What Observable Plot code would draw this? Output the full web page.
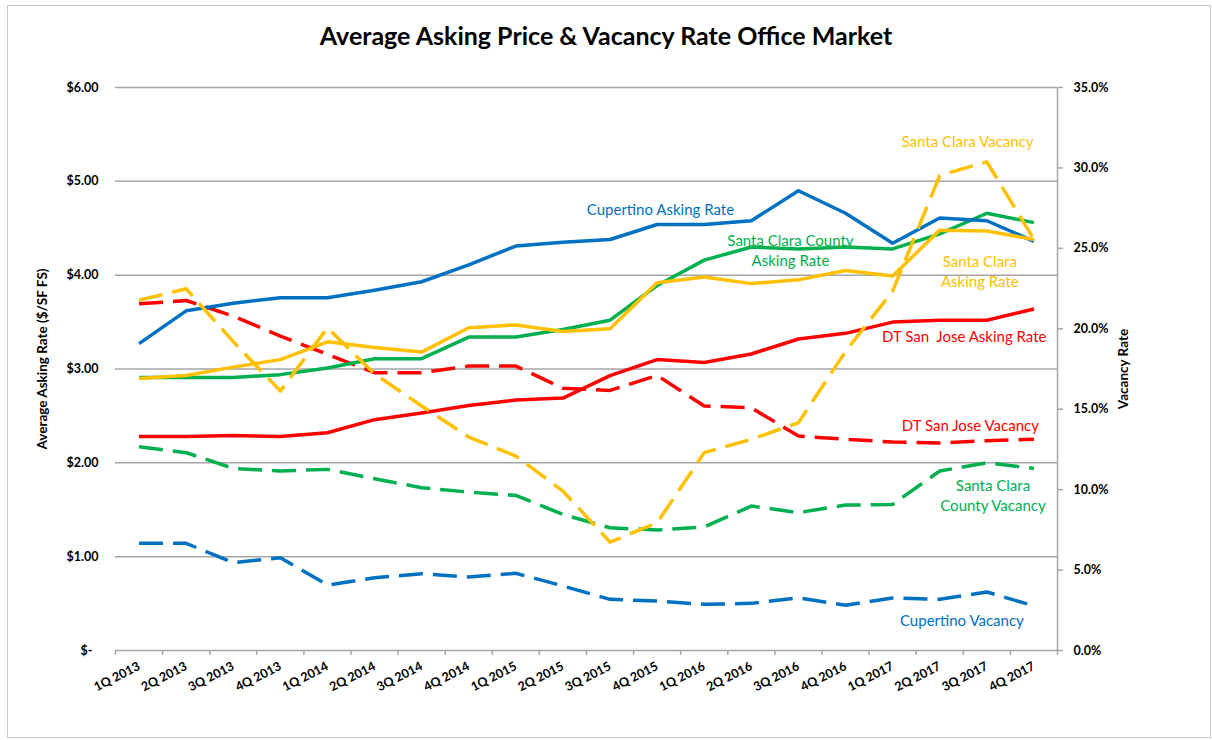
<!DOCTYPE html>
<html><head><meta charset="utf-8">
<script src="https://cdn.jsdelivr.net/npm/d3@7"></script>
<script src="https://cdn.jsdelivr.net/npm/@observablehq/plot@0.6"></script>
<style>
body{margin:0;background:#fff;font-family:Lato,"Open Sans",sans-serif;}
#frame{position:absolute;left:7px;top:5px;width:1202px;height:731px;border:1px solid #c8c8c8;pointer-events:none;}
#title{height:60px;box-sizing:border-box;padding-top:21px;text-align:center;font-weight:bold;font-size:25px;line-height:28px;color:#000;}
#chart svg{display:block;}
</style></head><body>
<div id="frame"></div>
<div id="title">Average Asking Price &amp; Vacancy Rate Office Market</div>
<div id="chart"></div>
<script>
const quarters = ["1Q 2013","2Q 2013","3Q 2013","4Q 2013","1Q 2014","2Q 2014","3Q 2014","4Q 2014","1Q 2015","2Q 2015","3Q 2015","4Q 2015","1Q 2016","2Q 2016","3Q 2016","4Q 2016","1Q 2017","2Q 2017","3Q 2017","4Q 2017"];

// Asking rates ($/SF FS) — left axis
const cupertinoAsking = [3.27,3.62,3.70,3.76,3.76,3.84,3.93,4.11,4.31,4.35,4.38,4.54,4.54,4.58,4.90,4.66,4.34,4.61,4.58,4.36];
const sccAsking       = [2.91,2.91,2.91,2.94,3.01,3.11,3.11,3.34,3.34,3.42,3.52,3.89,4.16,4.30,4.28,4.30,4.28,4.44,4.66,4.56];
const scAsking        = [2.90,2.93,3.02,3.10,3.29,3.23,3.18,3.44,3.47,3.40,3.43,3.92,3.98,3.91,3.95,4.05,3.99,4.48,4.47,4.38];
const dtsjAsking      = [2.28,2.28,2.29,2.28,2.32,2.46,2.53,2.61,2.67,2.69,2.93,3.10,3.07,3.16,3.32,3.38,3.50,3.52,3.52,3.64];

// Vacancy rates (%) — right axis
const dtsjVacancy      = [21.55,21.76,20.79,19.55,18.41,17.27,17.27,17.68,17.68,16.30,16.17,17.10,15.20,15.09,13.33,13.13,12.96,12.90,13.04,13.14];
const scVacancy        = [21.77,22.49,19.20,16.13,20.06,17.20,15.20,13.27,12.09,9.91,6.74,7.94,12.30,13.13,14.16,18.60,22.34,29.53,30.38,25.56];
const sccVacancy       = [12.67,12.30,11.32,11.16,11.26,10.68,10.12,9.85,9.64,8.46,7.63,7.49,7.68,8.98,8.57,9.04,9.08,11.16,11.67,11.32];
const cupertinoVacancy = [6.66,6.66,5.46,5.77,4.07,4.52,4.77,4.57,4.80,4.01,3.18,3.08,2.87,2.93,3.28,2.81,3.26,3.18,3.64,2.77];

const askTicks = [0,1,2,3,4,5,6];
const vacTicks = [0,5,10,15,20,25,30,35];

const BLUE = "#0070C0", GREEN = "#00B050", GOLD = "#FFC000", RED = "#FF0000";
const K = 6 / 35; // vacancy % -> left-axis units

const series = [
  {name:"Cupertino Vacancy", values:cupertinoVacancy, vac:true, color:BLUE},
  {name:"Santa Clara County Vacancy", values:sccVacancy, vac:true, color:GREEN},
  {name:"DT San Jose Vacancy", values:dtsjVacancy, vac:true, color:RED},
  {name:"DT San Jose Asking Rate", values:dtsjAsking, vac:false, color:RED},
  {name:"Santa Clara County Asking Rate", values:sccAsking, vac:false, color:GREEN},
  {name:"Cupertino Asking Rate", values:cupertinoAsking, vac:false, color:BLUE},
  {name:"Santa Clara Asking Rate", values:scAsking, vac:false, color:GOLD},
  {name:"Santa Clara Vacancy", values:scVacancy, vac:true, color:GOLD}
];

// annotation labels: text, anchor position (quarter index, asking-axis value), colour
const labels = [
  {text:"Cupertino Asking Rate", i:11.07, v:4.71, color:BLUE},
  {text:"Santa Clara County\nAsking Rate", i:13.83, v:4.27, color:GREEN},
  {text:"Santa Clara Vacancy", i:17.59, v:5.43, color:GOLD},
  {text:"Santa Clara\nAsking Rate", i:17.85, v:4.05, color:GOLD},
  {text:"DT San\u00a0 Jose Asking Rate", i:17.52, v:3.36, color:RED},
  {text:"DT San Jose Vacancy", i:17.65, v:2.41, color:RED},
  {text:"Santa Clara\nCounty Vacancy", i:18.13, v:1.66, color:GREEN},
  {text:"Cupertino Vacancy", i:17.47, v:0.33, color:BLUE}
];

const lineMarks = series.map(s => Plot.line(
  s.values.map((v, i) => ({i, y: s.vac ? v * K : v})),
  {x:"i", y:"y", stroke:s.color, strokeWidth:3.5,
   strokeDasharray: s.vac ? "24,10" : null,
   curve:"linear", strokeLinecap:"butt", strokeLinejoin:"round"}
));

const bounds = d3.range(21).map(k => k - 0.5);
const GRID = "#a6a6a6";

const chart = Plot.plot({
  width:1212, height:680,
  marginTop:27, marginBottom:90, marginLeft:115, marginRight:155,
  x:{type:"linear", domain:[-0.5,19.5], label:null},
  y:{domain:[0,6], label:null},
  style:{fontFamily:"Lato, 'Open Sans', sans-serif", color:"#000", background:"#fff"},
  marks:[
    Plot.ruleY(askTicks.filter(d => d > 0), {stroke:GRID, strokeWidth:1.5}),
    Plot.ruleY([0], {stroke:GRID, strokeWidth:1.5}),
    Plot.ruleX([19.5], {stroke:GRID, strokeWidth:1.5}),
    Plot.axisX(bounds, {tickSize:5, tickFormat:() => "", stroke:GRID, strokeWidth:1.5}),
    Plot.axisX(d3.range(20), {tickSize:0, tickPadding:15, tickRotate:-27,
      tickFormat:i => quarters[i], fontWeight:"bold", fontSize:12.5, fill:"#000"}),
    Plot.axisY(askTicks, {anchor:"left", tickSize:0, tickPadding:17,
      tickFormat:d => d === 0 ? "$-\u00a0\u00a0" : "$" + d.toFixed(2),
      fontWeight:"bold", fontSize:12.5, fill:"#000"}),
    Plot.axisY(vacTicks.map(v => v * K), {anchor:"right", tickSize:5, tickPadding:11,
      tickFormat:d => (d / K).toFixed(1) + "%", stroke:GRID, strokeWidth:1.5,
      fontWeight:"bold", fontSize:12.5, fill:"#000"}),
    ...lineMarks,
    Plot.text(labels, {x:"i", y:"v", text:"text", fill:"color", fontSize:15,
      lineHeight:1.35, textAnchor:"middle", lineAnchor:"middle"}),
    Plot.text(["Average Asking Rate ($/SF FS)"], {frameAnchor:"left", textAnchor:"middle", rotate:-90, dx:-73, dy:-10,
      fontWeight:"bold", fontSize:13.5, fill:"#000"}),
    Plot.text(["Vacancy Rate"], {frameAnchor:"right", textAnchor:"middle", rotate:-90, dx:66, dy:0,
      fontWeight:"bold", fontSize:13.5, fill:"#000"})
  ]
});
document.getElementById("chart").appendChild(chart);
</script>
</body></html>
